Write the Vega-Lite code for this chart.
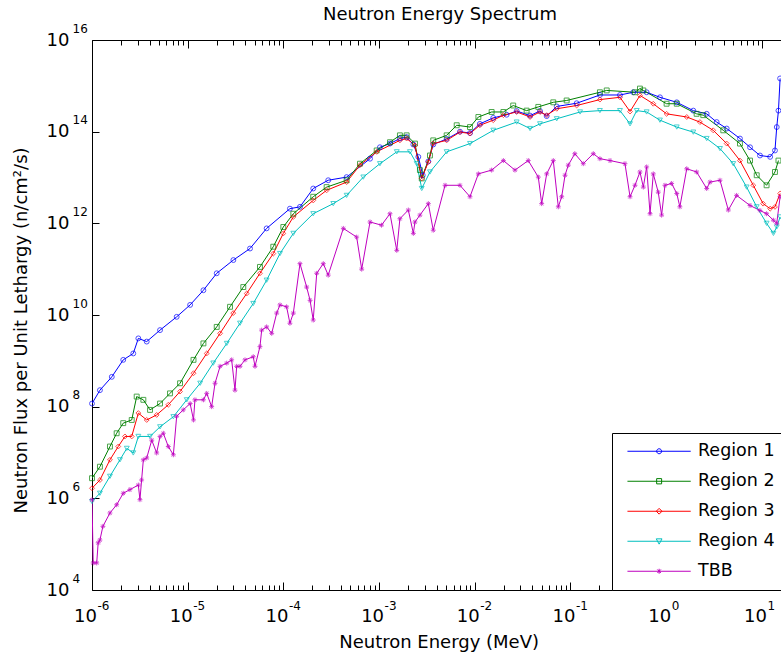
{
  "$schema": "https://vega.github.io/schema/vega-lite/v6.json",
  "width": 689,
  "height": 550,
  "autosize": {"type": "none"},
  "padding": {"left": 92, "top": 40, "right": 0, "bottom": 67},
  "background": "white",
  "title": {"text": "Neutron Energy Spectrum", "font": "DejaVu Sans", "fontSize": 18, "fontWeight": "normal", "color": "black", "anchor": "middle", "frame": "group", "baseline": "alphabetic", "offset": 0, "dy": 16, "dx": 3.5},
  "config": {
    "view": {"stroke": null},
    "axis": {"labelFont": "DejaVu Sans", "titleFont": "DejaVu Sans", "labelColor": "black", "titleColor": "black", "domainColor": "black", "tickColor": "black", "grid": false, "labelOverlap": false, "labelFlush": false, "labelBound": false, "titleFontWeight": "normal"},
    "legend": {"labelFont": "DejaVu Sans", "labelColor": "black"}
  },
  "datasets": {
    "flux": [
      {"series": "Region 1", "E": 1e-6, "flux": 1.17e8},
      {"series": "Region 1", "E": 1.21e-6, "flux": 2.29e8},
      {"series": "Region 1", "E": 1.61e-6, "flux": 4.47e8},
      {"series": "Region 1", "E": 2.12e-6, "flux": 1.05e9},
      {"series": "Region 1", "E": 2.70e-6, "flux": 1.45e9},
      {"series": "Region 1", "E": 3.05e-6, "flux": 3.09e9},
      {"series": "Region 1", "E": 3.73e-6, "flux": 2.63e9},
      {"series": "Region 1", "E": 5.14e-6, "flux": 4.68e9},
      {"series": "Region 1", "E": 7.67e-6, "flux": 9.12e9},
      {"series": "Region 1", "E": 1.06e-5, "flux": 1.66e10},
      {"series": "Region 1", "E": 1.46e-5, "flux": 3.47e10},
      {"series": "Region 1", "E": 2.01e-5, "flux": 8.13e10},
      {"series": "Region 1", "E": 3.0e-5, "flux": 1.58e11},
      {"series": "Region 1", "E": 4.48e-5, "flux": 2.82e11},
      {"series": "Region 1", "E": 6.68e-5, "flux": 7.76e11},
      {"series": "Region 1", "E": 1.17e-4, "flux": 2.09e12},
      {"series": "Region 1", "E": 1.49e-4, "flux": 2.29e12},
      {"series": "Region 1", "E": 2.05e-4, "flux": 5.75e12},
      {"series": "Region 1", "E": 2.94e-4, "flux": 8.71e12},
      {"series": "Region 1", "E": 4.58e-4, "flux": 1.02e13},
      {"series": "Region 1", "E": 8.04e-4, "flux": 2.57e13},
      {"series": "Region 1", "E": 1.02e-3, "flux": 4.57e13},
      {"series": "Region 1", "E": 1.30e-3, "flux": 5.50e13},
      {"series": "Region 1", "E": 1.65e-3, "flux": 7.08e13},
      {"series": "Region 1", "E": 1.94e-3, "flux": 7.59e13},
      {"series": "Region 1", "E": 2.28e-3, "flux": 5.25e13},
      {"series": "Region 1", "E": 2.57e-3, "flux": 2.82e13},
      {"series": "Region 1", "E": 2.86e-3, "flux": 1.12e13},
      {"series": "Region 1", "E": 3.27e-3, "flux": 2.24e13},
      {"series": "Region 1", "E": 3.68e-3, "flux": 5.25e13},
      {"series": "Region 1", "E": 5.08e-3, "flux": 6.92e13},
      {"series": "Region 1", "E": 7.00e-3, "flux": 1.0e14},
      {"series": "Region 1", "E": 8.91e-3, "flux": 9.33e13},
      {"series": "Region 1", "E": 1.13e-2, "flux": 1.48e14},
      {"series": "Region 1", "E": 1.56e-2, "flux": 2.0e14},
      {"series": "Region 1", "E": 2.15e-2, "flux": 2.34e14},
      {"series": "Region 1", "E": 2.74e-2, "flux": 2.82e14},
      {"series": "Region 1", "E": 3.78e-2, "flux": 2.24e14},
      {"series": "Region 1", "E": 4.80e-2, "flux": 2.82e14},
      {"series": "Region 1", "E": 5.64e-2, "flux": 2.19e14},
      {"series": "Region 1", "E": 7.18e-2, "flux": 3.55e14},
      {"series": "Region 1", "E": 0.116, "flux": 4.17e14},
      {"series": "Region 1", "E": 0.203, "flux": 6.31e14},
      {"series": "Region 1", "E": 0.329, "flux": 6.31e14},
      {"series": "Region 1", "E": 0.453, "flux": 7.24e14},
      {"series": "Region 1", "E": 0.625, "flux": 7.24e14},
      {"series": "Region 1", "E": 0.861, "flux": 5.62e14},
      {"series": "Region 1", "E": 1.29, "flux": 4.37e14},
      {"series": "Region 1", "E": 1.92, "flux": 2.88e14},
      {"series": "Region 1", "E": 2.65, "flux": 2.45e14},
      {"series": "Region 1", "E": 3.37, "flux": 1.62e14},
      {"series": "Region 1", "E": 4.29, "flux": 1.17e14},
      {"series": "Region 1", "E": 5.90, "flux": 7.08e13},
      {"series": "Region 1", "E": 7.52, "flux": 4.57e13},
      {"series": "Region 1", "E": 9.55, "flux": 3.02e13},
      {"series": "Region 1", "E": 12.2, "flux": 2.82e13},
      {"series": "Region 1", "E": 13.7, "flux": 3.89e13},
      {"series": "Region 1", "E": 14.3, "flux": 1.26e14},
      {"series": "Region 1", "E": 14.9, "flux": 2.88e14},
      {"series": "Region 1", "E": 15.5, "flux": 1.45e15},

      {"series": "Region 2", "E": 1e-6, "flux": 2.75e6},
      {"series": "Region 2", "E": 1.21e-6, "flux": 4.90e6},
      {"series": "Region 2", "E": 1.54e-6, "flux": 1.35e7},
      {"series": "Region 2", "E": 1.81e-6, "flux": 2.63e7},
      {"series": "Region 2", "E": 2.12e-6, "flux": 4.37e7},
      {"series": "Region 2", "E": 2.60e-6, "flux": 5.13e7},
      {"series": "Region 2", "E": 2.93e-6, "flux": 1.66e8},
      {"series": "Region 2", "E": 3.44e-6, "flux": 1.41e8},
      {"series": "Region 2", "E": 4.04e-6, "flux": 8.51e7},
      {"series": "Region 2", "E": 5.14e-6, "flux": 1.17e8},
      {"series": "Region 2", "E": 6.53e-6, "flux": 1.95e8},
      {"series": "Region 2", "E": 8.32e-6, "flux": 3.24e8},
      {"series": "Region 2", "E": 1.15e-5, "flux": 1.05e9},
      {"series": "Region 2", "E": 1.46e-5, "flux": 2.40e9},
      {"series": "Region 2", "E": 2.01e-5, "flux": 5.50e9},
      {"series": "Region 2", "E": 2.77e-5, "flux": 1.51e10},
      {"series": "Region 2", "E": 3.81e-5, "flux": 4.07e10},
      {"series": "Region 2", "E": 5.69e-5, "flux": 1.12e11},
      {"series": "Region 2", "E": 7.84e-5, "flux": 3.09e11},
      {"series": "Region 2", "E": 9.98e-5, "flux": 8.32e11},
      {"series": "Region 2", "E": 1.27e-4, "flux": 1.62e12},
      {"series": "Region 2", "E": 2.05e-4, "flux": 3.80e12},
      {"series": "Region 2", "E": 2.83e-4, "flux": 6.17e12},
      {"series": "Region 2", "E": 4.58e-4, "flux": 8.71e12},
      {"series": "Region 2", "E": 6.31e-4, "flux": 2.0e13},
      {"series": "Region 2", "E": 9.44e-4, "flux": 3.89e13},
      {"series": "Region 2", "E": 1.30e-3, "flux": 5.89e13},
      {"series": "Region 2", "E": 1.65e-3, "flux": 8.32e13},
      {"series": "Region 2", "E": 1.94e-3, "flux": 8.32e13},
      {"series": "Region 2", "E": 2.37e-3, "flux": 5.50e13},
      {"series": "Region 2", "E": 2.67e-3, "flux": 1.45e13},
      {"series": "Region 2", "E": 2.79e-3, "flux": 9.55e12},
      {"series": "Region 2", "E": 3.40e-3, "flux": 3.02e13},
      {"series": "Region 2", "E": 3.68e-3, "flux": 6.46e13},
      {"series": "Region 2", "E": 5.08e-3, "flux": 8.32e13},
      {"series": "Region 2", "E": 6.47e-3, "flux": 1.38e14},
      {"series": "Region 2", "E": 8.91e-3, "flux": 1.26e14},
      {"series": "Region 2", "E": 1.09e-2, "flux": 2.09e14},
      {"series": "Region 2", "E": 1.50e-2, "flux": 2.69e14},
      {"series": "Region 2", "E": 1.99e-2, "flux": 2.69e14},
      {"series": "Region 2", "E": 2.52e-2, "flux": 3.72e14},
      {"series": "Region 2", "E": 3.48e-2, "flux": 2.88e14},
      {"series": "Region 2", "E": 4.61e-2, "flux": 3.47e14},
      {"series": "Region 2", "E": 6.61e-2, "flux": 4.37e14},
      {"series": "Region 2", "E": 9.12e-2, "flux": 4.79e14},
      {"series": "Region 2", "E": 0.203, "flux": 7.24e14},
      {"series": "Region 2", "E": 0.239, "flux": 7.94e14},
      {"series": "Region 2", "E": 0.472, "flux": 7.24e14},
      {"series": "Region 2", "E": 0.532, "flux": 8.71e14},
      {"series": "Region 2", "E": 0.577, "flux": 7.94e14},
      {"series": "Region 2", "E": 1.01, "flux": 4.07e14},
      {"series": "Region 2", "E": 1.29, "flux": 4.07e14},
      {"series": "Region 2", "E": 2.08, "flux": 2.45e14},
      {"series": "Region 2", "E": 2.44, "flux": 2.29e14},
      {"series": "Region 2", "E": 3.95, "flux": 1.07e14},
      {"series": "Region 2", "E": 5.90, "flux": 5.50e13},
      {"series": "Region 2", "E": 7.52, "flux": 2.34e13},
      {"series": "Region 2", "E": 8.83, "flux": 1.12e13},
      {"series": "Region 2", "E": 11.2, "flux": 6.76e12},
      {"series": "Region 2", "E": 13.7, "flux": 1.32e13},
      {"series": "Region 2", "E": 14.9, "flux": 2.34e13},

      {"series": "Region 3", "E": 1e-6, "flux": 1.66e6},
      {"series": "Region 3", "E": 1.21e-6, "flux": 2.51e6},
      {"series": "Region 3", "E": 1.54e-6, "flux": 6.92e6},
      {"series": "Region 3", "E": 1.88e-6, "flux": 1.35e7},
      {"series": "Region 3", "E": 2.21e-6, "flux": 2.24e7},
      {"series": "Region 3", "E": 2.60e-6, "flux": 2.24e7},
      {"series": "Region 3", "E": 3.05e-6, "flux": 7.24e7},
      {"series": "Region 3", "E": 3.73e-6, "flux": 5.13e7},
      {"series": "Region 3", "E": 4.74e-6, "flux": 6.61e7},
      {"series": "Region 3", "E": 6.27e-6, "flux": 1.10e8},
      {"series": "Region 3", "E": 8.32e-6, "flux": 2.14e8},
      {"series": "Region 3", "E": 1.15e-5, "flux": 5.37e8},
      {"series": "Region 3", "E": 1.58e-5, "flux": 1.45e9},
      {"series": "Region 3", "E": 2.18e-5, "flux": 3.98e9},
      {"series": "Region 3", "E": 2.99e-5, "flux": 1.10e10},
      {"series": "Region 3", "E": 4.14e-5, "flux": 2.95e10},
      {"series": "Region 3", "E": 5.69e-5, "flux": 8.13e10},
      {"series": "Region 3", "E": 7.84e-5, "flux": 2.19e11},
      {"series": "Region 3", "E": 9.98e-5, "flux": 6.03e11},
      {"series": "Region 3", "E": 1.27e-4, "flux": 1.38e12},
      {"series": "Region 3", "E": 2.05e-4, "flux": 3.16e12},
      {"series": "Region 3", "E": 2.83e-4, "flux": 5.25e12},
      {"series": "Region 3", "E": 4.58e-4, "flux": 7.94e12},
      {"series": "Region 3", "E": 6.31e-4, "flux": 1.86e13},
      {"series": "Region 3", "E": 9.44e-4, "flux": 3.63e13},
      {"series": "Region 3", "E": 1.65e-3, "flux": 6.46e13},
      {"series": "Region 3", "E": 1.94e-3, "flux": 7.08e13},
      {"series": "Region 3", "E": 2.37e-3, "flux": 5.01e13},
      {"series": "Region 3", "E": 2.79e-3, "flux": 9.55e12},
      {"series": "Region 3", "E": 3.27e-3, "flux": 2.19e13},
      {"series": "Region 3", "E": 3.68e-3, "flux": 5.50e13},
      {"series": "Region 3", "E": 5.08e-3, "flux": 6.46e13},
      {"series": "Region 3", "E": 7.00e-3, "flux": 9.77e13},
      {"series": "Region 3", "E": 8.91e-3, "flux": 9.12e13},
      {"series": "Region 3", "E": 1.13e-2, "flux": 1.38e14},
      {"series": "Region 3", "E": 1.56e-2, "flux": 1.78e14},
      {"series": "Region 3", "E": 1.99e-2, "flux": 2.29e14},
      {"series": "Region 3", "E": 2.74e-2, "flux": 2.69e14},
      {"series": "Region 3", "E": 3.78e-2, "flux": 2.09e14},
      {"series": "Region 3", "E": 4.80e-2, "flux": 2.69e14},
      {"series": "Region 3", "E": 5.64e-2, "flux": 2.29e14},
      {"series": "Region 3", "E": 7.18e-2, "flux": 3.16e14},
      {"series": "Region 3", "E": 0.116, "flux": 3.72e14},
      {"series": "Region 3", "E": 0.203, "flux": 5.01e14},
      {"series": "Region 3", "E": 0.329, "flux": 5.62e14},
      {"series": "Region 3", "E": 0.419, "flux": 2.75e14},
      {"series": "Region 3", "E": 0.532, "flux": 6.17e14},
      {"series": "Region 3", "E": 0.733, "flux": 4.07e14},
      {"series": "Region 3", "E": 1.01, "flux": 2.45e14},
      {"series": "Region 3", "E": 1.64, "flux": 2.09e14},
      {"series": "Region 3", "E": 2.25, "flux": 1.62e14},
      {"series": "Region 3", "E": 3.10, "flux": 1.07e14},
      {"series": "Region 3", "E": 4.29, "flux": 5.50e13},
      {"series": "Region 3", "E": 5.90, "flux": 2.34e13},
      {"series": "Region 3", "E": 8.13, "flux": 6.76e12},
      {"series": "Region 3", "E": 10.3, "flux": 2.69e12},
      {"series": "Region 3", "E": 12.2, "flux": 2.09e12},
      {"series": "Region 3", "E": 13.7, "flux": 2.29e12},
      {"series": "Region 3", "E": 15.5, "flux": 4.47e12},

      {"series": "Region 4", "E": 1e-6, "flux": 8.51e5},
      {"series": "Region 4", "E": 1.21e-6, "flux": 1.29e6},
      {"series": "Region 4", "E": 1.54e-6, "flux": 3.02e6},
      {"series": "Region 4", "E": 1.96e-6, "flux": 6.92e6},
      {"series": "Region 4", "E": 2.31e-6, "flux": 1.23e7},
      {"series": "Region 4", "E": 2.70e-6, "flux": 9.77e6},
      {"series": "Region 4", "E": 3.05e-6, "flux": 2.24e7},
      {"series": "Region 4", "E": 4.04e-6, "flux": 2.24e7},
      {"series": "Region 4", "E": 5.14e-6, "flux": 3.63e7},
      {"series": "Region 4", "E": 7.08e-6, "flux": 6.03e7},
      {"series": "Region 4", "E": 9.77e-6, "flux": 1.41e8},
      {"series": "Region 4", "E": 1.35e-5, "flux": 3.24e8},
      {"series": "Region 4", "E": 1.85e-5, "flux": 8.91e8},
      {"series": "Region 4", "E": 2.56e-5, "flux": 2.40e9},
      {"series": "Region 4", "E": 3.52e-5, "flux": 6.61e9},
      {"series": "Region 4", "E": 4.84e-5, "flux": 1.78e10},
      {"series": "Region 4", "E": 6.68e-5, "flux": 5.75e10},
      {"series": "Region 4", "E": 9.21e-5, "flux": 2.19e11},
      {"series": "Region 4", "E": 1.27e-4, "flux": 6.03e11},
      {"series": "Region 4", "E": 2.05e-4, "flux": 1.62e12},
      {"series": "Region 4", "E": 3.32e-4, "flux": 2.69e12},
      {"series": "Region 4", "E": 4.58e-4, "flux": 4.07e12},
      {"series": "Region 4", "E": 6.84e-4, "flux": 1.02e13},
      {"series": "Region 4", "E": 1.02e-3, "flux": 2.0e13},
      {"series": "Region 4", "E": 1.53e-3, "flux": 3.63e13},
      {"series": "Region 4", "E": 2.10e-3, "flux": 3.63e13},
      {"series": "Region 4", "E": 2.47e-3, "flux": 2.0e13},
      {"series": "Region 4", "E": 2.79e-3, "flux": 5.75e12},
      {"series": "Region 4", "E": 3.40e-3, "flux": 1.32e13},
      {"series": "Region 4", "E": 5.08e-3, "flux": 3.63e13},
      {"series": "Region 4", "E": 8.91e-3, "flux": 5.50e13},
      {"series": "Region 4", "E": 1.56e-2, "flux": 1.07e14},
      {"series": "Region 4", "E": 2.74e-2, "flux": 1.62e14},
      {"series": "Region 4", "E": 3.78e-2, "flux": 1.17e14},
      {"series": "Region 4", "E": 4.80e-2, "flux": 1.48e14},
      {"series": "Region 4", "E": 7.18e-2, "flux": 1.91e14},
      {"series": "Region 4", "E": 0.126, "flux": 2.69e14},
      {"series": "Region 4", "E": 0.203, "flux": 2.88e14},
      {"series": "Region 4", "E": 0.329, "flux": 2.88e14},
      {"series": "Region 4", "E": 0.419, "flux": 1.48e14},
      {"series": "Region 4", "E": 0.492, "flux": 2.88e14},
      {"series": "Region 4", "E": 0.625, "flux": 2.69e14},
      {"series": "Region 4", "E": 0.861, "flux": 1.78e14},
      {"series": "Region 4", "E": 1.29, "flux": 1.26e14},
      {"series": "Region 4", "E": 1.92, "flux": 9.77e13},
      {"series": "Region 4", "E": 2.65, "flux": 7.08e13},
      {"series": "Region 4", "E": 3.65, "flux": 4.27e13},
      {"series": "Region 4", "E": 5.02, "flux": 2.0e13},
      {"series": "Region 4", "E": 6.93, "flux": 6.17e12},
      {"series": "Region 4", "E": 8.83, "flux": 2.29e12},
      {"series": "Region 4", "E": 11.2, "flux": 1.0e12},
      {"series": "Region 4", "E": 13.2, "flux": 6.03e11},
      {"series": "Region 4", "E": 14.3, "flux": 8.32e11},
      {"series": "Region 4", "E": 15.5, "flux": 1.38e12},

      {"series": "TBB", "E": 1e-6, "flux": 9.33e5},
      {"series": "TBB", "E": 1.03e-6, "flux": 3.89e4},
      {"series": "TBB", "E": 1.12e-6, "flux": 3.89e4},
      {"series": "TBB", "E": 1.16e-6, "flux": 1.07e5},
      {"series": "TBB", "E": 1.21e-6, "flux": 1.23e5},
      {"series": "TBB", "E": 1.30e-6, "flux": 2.45e5},
      {"series": "TBB", "E": 1.54e-6, "flux": 4.79e5},
      {"series": "TBB", "E": 1.81e-6, "flux": 7.24e5},
      {"series": "TBB", "E": 2.12e-6, "flux": 1.29e6},
      {"series": "TBB", "E": 2.49e-6, "flux": 1.55e6},
      {"series": "TBB", "E": 3.05e-6, "flux": 1.95e6},
      {"series": "TBB", "E": 3.17e-6, "flux": 9.33e5},
      {"series": "TBB", "E": 3.30e-6, "flux": 2.51e6},
      {"series": "TBB", "E": 3.44e-6, "flux": 6.92e6},
      {"series": "TBB", "E": 3.73e-6, "flux": 7.59e6},
      {"series": "TBB", "E": 4.21e-6, "flux": 1.86e7},
      {"series": "TBB", "E": 4.74e-6, "flux": 9.77e6},
      {"series": "TBB", "E": 5.14e-6, "flux": 2.24e7},
      {"series": "TBB", "E": 5.56e-6, "flux": 2.63e7},
      {"series": "TBB", "E": 6.27e-6, "flux": 1.35e7},
      {"series": "TBB", "E": 7.08e-6, "flux": 8.91e6},
      {"series": "TBB", "E": 7.67e-6, "flux": 6.17e7},
      {"series": "TBB", "E": 8.99e-6, "flux": 8.51e7},
      {"series": "TBB", "E": 1.06e-5, "flux": 1.17e8},
      {"series": "TBB", "E": 1.15e-5, "flux": 5.13e7},
      {"series": "TBB", "E": 1.19e-5, "flux": 1.41e8},
      {"series": "TBB", "E": 1.46e-5, "flux": 1.41e8},
      {"series": "TBB", "E": 1.58e-5, "flux": 1.95e8},
      {"series": "TBB", "E": 1.78e-5, "flux": 1.0e8},
      {"series": "TBB", "E": 1.93e-5, "flux": 3.24e8},
      {"series": "TBB", "E": 2.18e-5, "flux": 7.59e8},
      {"series": "TBB", "E": 2.56e-5, "flux": 8.91e8},
      {"series": "TBB", "E": 2.88e-5, "flux": 1.05e9},
      {"series": "TBB", "E": 3.12e-5, "flux": 2.29e8},
      {"series": "TBB", "E": 3.25e-5, "flux": 7.59e8},
      {"series": "TBB", "E": 3.52e-5, "flux": 7.59e8},
      {"series": "TBB", "E": 3.97e-5, "flux": 1.05e9},
      {"series": "TBB", "E": 4.84e-5, "flux": 1.23e9},
      {"series": "TBB", "E": 5.05e-5, "flux": 7.59e8},
      {"series": "TBB", "E": 5.69e-5, "flux": 2.04e9},
      {"series": "TBB", "E": 5.93e-5, "flux": 4.68e9},
      {"series": "TBB", "E": 6.68e-5, "flux": 5.50e9},
      {"series": "TBB", "E": 7.55e-5, "flux": 3.98e9},
      {"series": "TBB", "E": 8.51e-5, "flux": 1.10e10},
      {"series": "TBB", "E": 9.21e-5, "flux": 1.66e10},
      {"series": "TBB", "E": 1.08e-4, "flux": 1.51e10},
      {"series": "TBB", "E": 1.17e-4, "flux": 6.61e9},
      {"series": "TBB", "E": 1.27e-4, "flux": 1.10e10},
      {"series": "TBB", "E": 1.49e-4, "flux": 1.32e11},
      {"series": "TBB", "E": 1.75e-4, "flux": 4.07e10},
      {"series": "TBB", "E": 1.90e-4, "flux": 2.09e10},
      {"series": "TBB", "E": 2.05e-4, "flux": 7.76e9},
      {"series": "TBB", "E": 2.23e-4, "flux": 8.13e10},
      {"series": "TBB", "E": 2.61e-4, "flux": 1.32e11},
      {"series": "TBB", "E": 2.94e-4, "flux": 7.41e10},
      {"series": "TBB", "E": 4.23e-4, "flux": 7.76e11},
      {"series": "TBB", "E": 5.83e-4, "flux": 5.01e11},
      {"series": "TBB", "E": 6.58e-4, "flux": 1.0e11},
      {"series": "TBB", "E": 8.04e-4, "flux": 1.07e12},
      {"series": "TBB", "E": 1.06e-3, "flux": 9.12e11},
      {"series": "TBB", "E": 1.30e-3, "flux": 1.62e12},
      {"series": "TBB", "E": 1.53e-3, "flux": 2.57e11},
      {"series": "TBB", "E": 1.65e-3, "flux": 1.26e12},
      {"series": "TBB", "E": 2.02e-3, "flux": 1.95e12},
      {"series": "TBB", "E": 2.28e-3, "flux": 6.03e11},
      {"series": "TBB", "E": 2.37e-3, "flux": 1.07e12},
      {"series": "TBB", "E": 2.67e-3, "flux": 1.51e12},
      {"series": "TBB", "E": 3.27e-3, "flux": 2.69e12},
      {"series": "TBB", "E": 3.68e-3, "flux": 7.08e11},
      {"series": "TBB", "E": 4.89e-3, "flux": 6.76e12},
      {"series": "TBB", "E": 7.00e-3, "flux": 6.76e12},
      {"series": "TBB", "E": 8.91e-3, "flux": 3.80e12},
      {"series": "TBB", "E": 1.09e-2, "flux": 1.20e13},
      {"series": "TBB", "E": 1.50e-2, "flux": 1.45e13},
      {"series": "TBB", "E": 1.99e-2, "flux": 2.34e13},
      {"series": "TBB", "E": 2.63e-2, "flux": 1.45e13},
      {"series": "TBB", "E": 3.62e-2, "flux": 2.34e13},
      {"series": "TBB", "E": 4.61e-2, "flux": 1.02e13},
      {"series": "TBB", "E": 5.00e-2, "flux": 2.69e12},
      {"series": "TBB", "E": 5.64e-2, "flux": 1.20e13},
      {"series": "TBB", "E": 6.61e-2, "flux": 2.34e13},
      {"series": "TBB", "E": 7.46e-2, "flux": 2.29e12},
      {"series": "TBB", "E": 8.09e-2, "flux": 3.80e12},
      {"series": "TBB", "E": 8.77e-2, "flux": 1.12e13},
      {"series": "TBB", "E": 9.48e-2, "flux": 1.86e13},
      {"series": "TBB", "E": 0.111, "flux": 3.31e13},
      {"series": "TBB", "E": 0.136, "flux": 2.0e13},
      {"series": "TBB", "E": 0.173, "flux": 3.31e13},
      {"series": "TBB", "E": 0.203, "flux": 2.57e13},
      {"series": "TBB", "E": 0.259, "flux": 2.34e13},
      {"series": "TBB", "E": 0.371, "flux": 2.0e13},
      {"series": "TBB", "E": 0.419, "flux": 3.80e12},
      {"series": "TBB", "E": 0.472, "flux": 6.76e12},
      {"series": "TBB", "E": 0.532, "flux": 1.32e13},
      {"series": "TBB", "E": 0.577, "flux": 6.17e12},
      {"series": "TBB", "E": 0.625, "flux": 1.70e13},
      {"series": "TBB", "E": 0.678, "flux": 1.62e12},
      {"series": "TBB", "E": 0.733, "flux": 1.20e13},
      {"series": "TBB", "E": 0.826, "flux": 4.79e12},
      {"series": "TBB", "E": 0.896, "flux": 1.51e12},
      {"series": "TBB", "E": 0.971, "flux": 6.76e12},
      {"series": "TBB", "E": 1.14, "flux": 7.41e12},
      {"series": "TBB", "E": 1.29, "flux": 4.47e12},
      {"series": "TBB", "E": 1.39, "flux": 2.29e12},
      {"series": "TBB", "E": 1.64, "flux": 1.55e13},
      {"series": "TBB", "E": 2.08, "flux": 1.32e13},
      {"series": "TBB", "E": 2.65, "flux": 5.75e12},
      {"series": "TBB", "E": 2.87, "flux": 7.94e12},
      {"series": "TBB", "E": 3.65, "flux": 8.71e12},
      {"series": "TBB", "E": 4.46, "flux": 1.95e12},
      {"series": "TBB", "E": 5.44, "flux": 4.07e12},
      {"series": "TBB", "E": 7.52, "flux": 2.45e12},
      {"series": "TBB", "E": 9.55, "flux": 1.91e12},
      {"series": "TBB", "E": 11.2, "flux": 1.62e12},
      {"series": "TBB", "E": 13.2, "flux": 1.17e12},
      {"series": "TBB", "E": 14.3, "flux": 1.0e12},
      {"series": "TBB", "E": 15.5, "flux": 3.80e12}
    ]
  },
  "resolve": {"axis": {"x": "independent", "y": "independent"}},
  "layer": [
    {
      "data": {"name": "flux"},
      "mark": {"type": "line", "strokeWidth": 1, "clip": true},
      "encoding": {
        "x": {"field": "E", "type": "quantitative",
          "scale": {"type": "log", "domain": [1e-6, 15.84], "nice": false},
          "axis": {"orient": "bottom", "values": [1e-6, 1e-5, 1e-4, 1e-3, 0.01, 0.1, 1, 10], "labelExpr": "'10'", "ticks": false, "domain": true, "labelFontSize": 18, "labelPadding": 31.5, "labelBaseline": "alphabetic", "labelAlign": "center", "labelOffset": -7,
            "title": "Neutron Energy (MeV)", "titleFontSize": 18, "titleX": 346.6, "titleY": 57, "titleBaseline": "alphabetic", "titleAlign": "center"}},
        "y": {"field": "flux", "type": "quantitative",
          "scale": {"type": "log", "domain": [1e4, 1e16], "nice": false},
          "axis": {"orient": "left", "values": [1e4, 1e6, 1e8, 1e10, 1e12, 1e14, 1e16], "labelExpr": "'10'", "ticks": false, "domain": true, "labelFontSize": 18, "labelPadding": 23, "labelAlign": "right", "labelBaseline": "middle",
            "title": "Neutron Flux per Unit Lethargy (n/cm²/s)", "titleFontSize": 18, "titleX": -66, "titleY": 290, "titleBaseline": "alphabetic", "titleAlign": "center", "titleAngle": -90}},
        "color": {"field": "series", "type": "nominal",
          "scale": {"domain": ["Region 1", "Region 2", "Region 3", "Region 4", "TBB"], "range": ["#0000FF", "#008000", "#FF0000", "#00BFBF", "#BF00BF"]},
          "legend": {"orient": "none", "legendX": 520, "legendY": 393, "title": null, "symbolType": "M-0.35,0L7.56,0", "symbolSize": 256, "symbolStrokeWidth": 1, "symbolFillColor": "transparent", "labelFontSize": 17.5, "labelOffset": 59, "padding": 9.5, "rowPadding": 11, "fillColor": "white", "strokeColor": "black", "labelLimit": 300,
            "encode": {"symbols": {"update": {
              "fill": {"value": "transparent"},
              "stroke": {"scale": "color", "field": "value"},
              "shape": {"signal": "datum.value === 'Region 1' ? 'M-0.35,0L7.56,0M3.92,0A0.31,0.31,0,1,1,3.30,0A0.31,0.31,0,1,1,3.92,0' : datum.value === 'Region 2' ? 'M-0.35,0L7.56,0M3.30,-0.33L3.92,-0.33L3.92,0.33L3.30,0.33Z' : datum.value === 'Region 3' ? 'M-0.35,0L7.56,0M3.61,-0.36L3.97,0L3.61,0.36L3.25,0Z' : datum.value === 'Region 4' ? 'M-0.35,0L7.56,0M3.25,-0.3L3.97,-0.3L3.61,0.36Z' : 'M-0.35,0L7.56,0M3.61,-0.31L3.61,0.31M3.39,-0.22L3.83,0.22M3.39,0.22L3.83,-0.22'"}
            }}}}}
      }
    },
    {
      "data": {"name": "flux"},
      "mark": {"type": "point", "filled": false, "strokeWidth": 1, "size": 24},
      "encoding": {
        "x": {"field": "E", "type": "quantitative",
          "axis": {"orient": "bottom", "values": [1e-6, 1e-5, 1e-4, 1e-3, 0.01, 0.1, 1, 10], "labelExpr": "'' + round(log(datum.value) / LN10)", "ticks": false, "domain": false, "labelFontSize": 12, "labelPadding": 19, "labelBaseline": "alphabetic", "labelAlign": "left", "labelOffset": 5, "title": null}},
        "y": {"field": "flux", "type": "quantitative",
          "axis": {"orient": "left", "values": [1e4, 1e6, 1e8, 1e10, 1e12, 1e14, 1e16], "labelExpr": "'' + round(log(datum.value) / LN10)", "ticks": false, "domain": false, "labelFontSize": 12, "labelPadding": 20, "labelAlign": "left", "labelBaseline": "middle", "labelOffset": -12, "title": null}},
        "color": {"field": "series", "type": "nominal", "legend": null},
        "shape": {"field": "series", "type": "nominal",
          "scale": {"range": ["circle", "square", "diamond", "triangle-down", "M-1,0L1,0M0,-1L0,1M-0.7,-0.7L0.7,0.7M-0.7,0.7L0.7,-0.7"]},
          "legend": null}
      }
    },
    {
      "data": {"values": []},
      "mark": "point",
      "encoding": {
        "x": {"field": "E", "type": "quantitative",
          "axis": {"orient": "bottom", "values": [1e-6, 1e-5, 1e-4, 1e-3, 0.01, 0.1, 1, 10], "labels": false, "domain": false, "ticks": true, "tickSize": -8, "title": null}},
        "y": {"field": "flux", "type": "quantitative",
          "axis": {"orient": "left", "values": [1e4, 1e6, 1e8, 1e10, 1e12, 1e14, 1e16], "labels": false, "domain": false, "ticks": true, "tickSize": -7, "title": null}}
      }
    },
    {
      "data": {"values": []},
      "mark": "point",
      "encoding": {
        "x": {"field": "E", "type": "quantitative",
          "axis": {"orient": "bottom", "values": [2e-6, 3e-6, 4e-6, 5e-6, 6e-6, 7e-6, 8e-6, 9e-6, 2e-5, 3e-5, 4e-5, 5e-5, 6e-5, 7e-5, 8e-5, 9e-5, 2e-4, 3e-4, 4e-4, 5e-4, 6e-4, 7e-4, 8e-4, 9e-4, 0.002, 0.003, 0.004, 0.005, 0.006, 0.007, 0.008, 0.009, 0.02, 0.03, 0.04, 0.05, 0.06, 0.07, 0.08, 0.09, 0.2, 0.3, 0.4, 0.5, 0.6, 0.7, 0.8, 0.9, 2, 3, 4, 5, 6, 7, 8, 9], "labels": false, "domain": false, "ticks": true, "tickSize": -5, "title": null}}
      }
    },
    {
      "data": {"values": []},
      "mark": "point",
      "encoding": {
        "x": {"field": "E", "type": "quantitative",
          "axis": {"orient": "top", "values": [1e-6, 1e-5, 1e-4, 1e-3, 0.01, 0.1, 1, 10], "labels": false, "domain": true, "ticks": true, "tickSize": -8, "title": null}}
      }
    },
    {
      "data": {"values": []},
      "mark": "point",
      "encoding": {
        "x": {"field": "E", "type": "quantitative",
          "axis": {"orient": "top", "values": [2e-6, 3e-6, 4e-6, 5e-6, 6e-6, 7e-6, 8e-6, 9e-6, 2e-5, 3e-5, 4e-5, 5e-5, 6e-5, 7e-5, 8e-5, 9e-5, 2e-4, 3e-4, 4e-4, 5e-4, 6e-4, 7e-4, 8e-4, 9e-4, 0.002, 0.003, 0.004, 0.005, 0.006, 0.007, 0.008, 0.009, 0.02, 0.03, 0.04, 0.05, 0.06, 0.07, 0.08, 0.09, 0.2, 0.3, 0.4, 0.5, 0.6, 0.7, 0.8, 0.9, 2, 3, 4, 5, 6, 7, 8, 9], "labels": false, "domain": false, "ticks": true, "tickSize": -5, "title": null}}
      }
    }
  ]
}
